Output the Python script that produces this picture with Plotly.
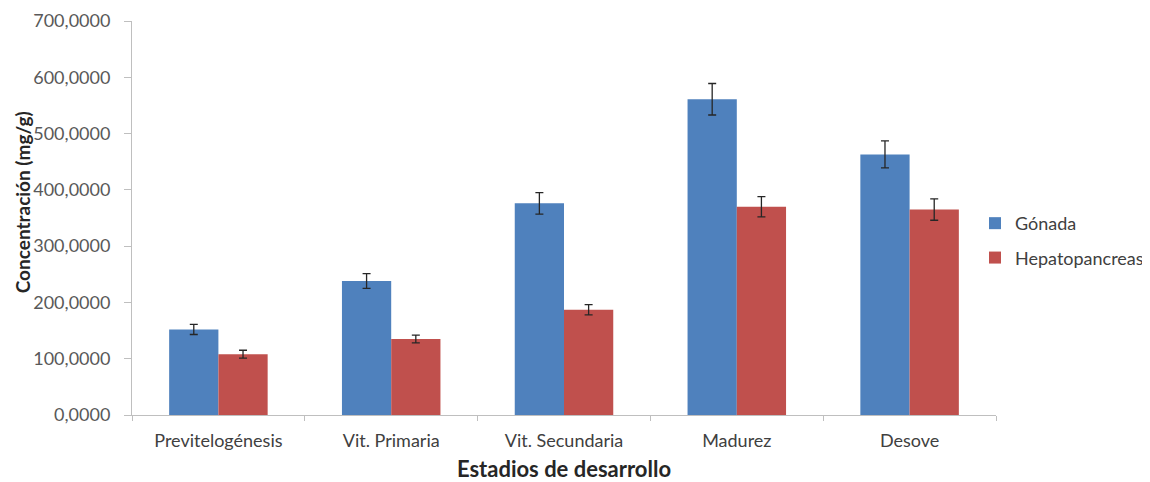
import plotly.graph_objects as go

categories = ["Previtelogénesis", "Vit. Primaria", "Vit. Secundaria", "Madurez", "Desove"]
gonada = [152, 238, 376, 561, 463]
gonada_err = [9, 13, 19, 28, 24]
hepato = [108, 135, 187, 370, 365]
hepato_err = [7, 7, 9, 18, 19]
y_ticks = [0, 100, 200, 300, 400, 500, 600, 700]
y_tick_labels = ["0,0000", "100,0000", "200,0000", "300,0000", "400,0000", "500,0000", "600,0000", "700,0000"]
y_title = "Concentración (mg/g)"
x_title = "Estadios de desarrollo"

font_family = "Lato, Open Sans, Liberation Sans, sans-serif"
err_style = dict(type="data", visible=True, color="#262626", thickness=1.3, width=4)

fig = go.Figure()
fig.add_trace(go.Bar(name="Gónada", x=categories, y=gonada, legendgroup="g1",
                     error_y=dict(array=gonada_err, **err_style),
                     marker=dict(color="#4F81BD", line=dict(width=0))))
fig.add_trace(go.Bar(name="Hepatopancreas", x=categories, y=hepato, legendgroup="g2",
                     error_y=dict(array=hepato_err, **err_style),
                     marker=dict(color="#C0504D", line=dict(width=0))))

fig.update_layout(
    width=1150, height=482,
    margin=dict(l=124, r=162, t=13, b=75, autoexpand=False),
    paper_bgcolor="white", plot_bgcolor="white",
    barmode="group", bargap=0.43, bargroupgap=0,
    font=dict(family=font_family, size=18, color="#595959"),
    showlegend=True,
    legend=dict(x=0.9757, xanchor="left", y=0.443, yanchor="middle",
                font=dict(size=18, color="#404040"), tracegroupgap=8,
                itemwidth=30, bgcolor="rgba(0,0,0,0)"),
    annotations=[dict(text="<b>" + y_title + "</b>", textangle=-90,
                      xref="paper", yref="paper", x=-0.1273, y=0.54,
                      xanchor="center", yanchor="middle", showarrow=False,
                      font=dict(size=19, color="#262626"))],
)
fig.update_xaxes(
    automargin=False,
    showline=True, linecolor="#BFBFBF", linewidth=1,
    ticks="outside", tickson="boundaries", ticklen=5, tickcolor="#BFBFBF",
    ticklabelstandoff=9,
    showgrid=False,
    tickfont=dict(size=18, color="#404040"),
    title=dict(text="<b>" + x_title + "</b>", font=dict(size=22, color="#262626"), standoff=12),
)
fig.update_yaxes(
    automargin=False,
    range=[0, 700], tickvals=y_ticks, ticktext=y_tick_labels,
    showline=True, linecolor="#BFBFBF", linewidth=1,
    ticks="outside", ticklen=7, tickcolor="#BFBFBF",
    ticklabelstandoff=10,
    showgrid=False, zeroline=False,
    tickfont=dict(size=18, color="#595959"),
)

fig.write_html("out.html")
